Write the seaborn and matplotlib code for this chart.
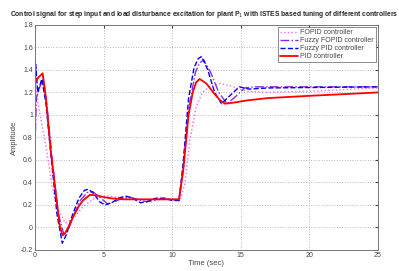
import numpy as np
import pandas as pd
import matplotlib
matplotlib.use('Agg')
import matplotlib.pyplot as plt
import seaborn as sns

# Curves
t_pid = [0, 0.3, 0.56, 0.8, 1.14, 1.58, 1.8, 2.0, 2.2, 2.5, 2.8, 3.2, 3.5, 4.0, 4.5, 5.0, 5.5,
         6.5, 10.5, 10.8, 11.2, 11.5, 11.75, 12.0, 12.5, 13.0, 13.5, 13.85, 14.5, 15.5, 17, 20, 25]
y_pid = [1.30, 1.34, 1.37, 1.15, 0.69, 0.24, 0.02, -0.07, -0.05, 0.02, 0.10, 0.19, 0.24, 0.29,
         0.285, 0.27, 0.26, 0.25, 0.25, 0.50, 1.00, 1.20, 1.29, 1.32, 1.28, 1.20, 1.13, 1.10, 1.11,
         1.13, 1.15, 1.17, 1.20]

t_fpid = [0, 0.05, 0.2, 0.5, 0.8, 1.2, 1.6, 1.99, 2.3, 2.7, 3.2, 3.6, 3.9, 4.3, 4.7, 5.1, 5.6, 6.1,
          6.6, 7.1, 7.7, 8.2, 8.8, 9.4, 10.0, 10.5, 10.8, 11.2, 11.6, 11.9, 12.15, 12.6, 13.1, 13.6,
          14.2, 14.9, 15.6, 17, 25]
y_fpid = [1.05, 1.45, 1.20, 1.32, 1.10, 0.60, 0.12, -0.14, -0.06, 0.10, 0.26, 0.33, 0.34, 0.30,
          0.23, 0.20, 0.22, 0.26, 0.28, 0.26, 0.22, 0.23, 0.26, 0.26, 0.24, 0.24, 0.57, 1.15, 1.42,
          1.50, 1.52, 1.40, 1.20, 1.10, 1.17, 1.25, 1.23, 1.24, 1.25]

t_ffopid = [0, 0.1, 0.35, 0.6, 0.9, 1.3, 1.7, 2.1, 2.4, 2.8, 3.3, 3.8, 4.2, 4.7, 5.3, 5.8, 6.4, 6.9,
            7.5, 8.1, 8.7, 9.4, 10.0, 10.5, 10.8, 11.2, 11.7, 12.0, 12.3, 12.8, 13.4, 14.0, 14.6,
            15.3, 16.0, 25]
y_ffopid = [0.72, 1.15, 1.25, 1.33, 1.05, 0.55, 0.12, -0.06, -0.03, 0.10, 0.24, 0.31, 0.32, 0.27,
            0.21, 0.23, 0.26, 0.27, 0.25, 0.23, 0.24, 0.26, 0.25, 0.24, 0.50, 1.05, 1.38, 1.46,
            1.49, 1.38, 1.20, 1.10, 1.16, 1.24, 1.25, 1.25]

t_fopid = [0, 0.05, 0.3, 0.6, 0.85, 1.21, 1.6, 2.2, 2.8, 3.5, 4.0, 4.5, 5.2, 6.0, 7.0, 10.6, 10.93,
           11.3, 11.75, 12.2, 12.8, 13.5, 14.2, 15.4, 17, 20, 25]
y_fopid = [1.80, 1.25, 1.05, 0.85, 0.69, 0.39, 0.18, 0.04, 0.08, 0.185, 0.23, 0.27, 0.28, 0.27,
           0.25, 0.25, 0.39, 0.78, 1.07, 1.20, 1.26, 1.28, 1.26, 1.21, 1.20, 1.21, 1.24]

labels = ['FOPID controller', 'Fuzzy FOPID controller', 'Fuzzy PID controller', 'PID controller']
y_ticks = [-0.2, 0, 0.2, 0.4, 0.6, 0.8, 1, 1.2, 1.4, 1.6, 1.8]

sns.set_style('white')
plt.rcParams['font.family'] = ['Liberation Sans', 'DejaVu Sans']

fig = plt.figure(figsize=(3.99, 2.71), dpi=100)
ax = fig.add_axes([0.0877, 0.0775, 0.8593, 0.8305])

sns.lineplot(x=t_fopid, y=y_fopid, ax=ax, color='#ff66ff', linestyle=':', linewidth=1.0,
             label=labels[0], sort=False)
sns.lineplot(x=t_ffopid, y=y_ffopid, ax=ax, color='#8a2be2', linestyle='-.', linewidth=1.0,
             label=labels[1], sort=False)
sns.lineplot(x=t_fpid, y=y_fpid, ax=ax, color='#0000ff', linestyle='--', linewidth=1.0,
             label=labels[2], sort=False)
sns.lineplot(x=t_pid, y=y_pid, ax=ax, color='#ff0000', linestyle='-', linewidth=1.3,
             label=labels[3], sort=False)

ax.set_xlim(0, 25)
ax.set_ylim(-0.2, 1.8)
ax.set_xticks(np.arange(0, 26, 5))
ax.set_yticks(y_ticks)
ax.set_yticklabels([f'{v:g}' for v in y_ticks])
ax.grid(True, linestyle=':', color='#bbbbbb', linewidth=0.7)
ax.tick_params(direction='in', top=True, right=True, labelsize=5, length=2, colors='#444444',
               pad=1.5)
for s in ax.spines.values():
    s.set_color('#777777')
    s.set_linewidth(0.7)

ax.set_xlabel('Time (sec)', fontsize=5.5, color='#444444', labelpad=1)
ax.set_ylabel('Amplitude', fontsize=5.5, color='#444444', labelpad=2)
fig.text(0.025, 0.945, 'Control signal for step input and load disturbance excitation for plant '
         'P$_1$ with ISTES based tuning of different controllers', fontsize=4.9,
         fontweight='bold', ha='left', va='center')

leg = ax.legend(loc='upper right', fontsize=5, frameon=True, fancybox=False, handlelength=2.6,
                handletextpad=0.3, borderpad=0.3, labelspacing=0.15, borderaxespad=0.3)
leg.get_frame().set_edgecolor('#555555')
leg.get_frame().set_linewidth(0.6)
for txt in leg.get_texts():
    txt.set_color('#444444')

fig.savefig('out.png', dpi=100)
